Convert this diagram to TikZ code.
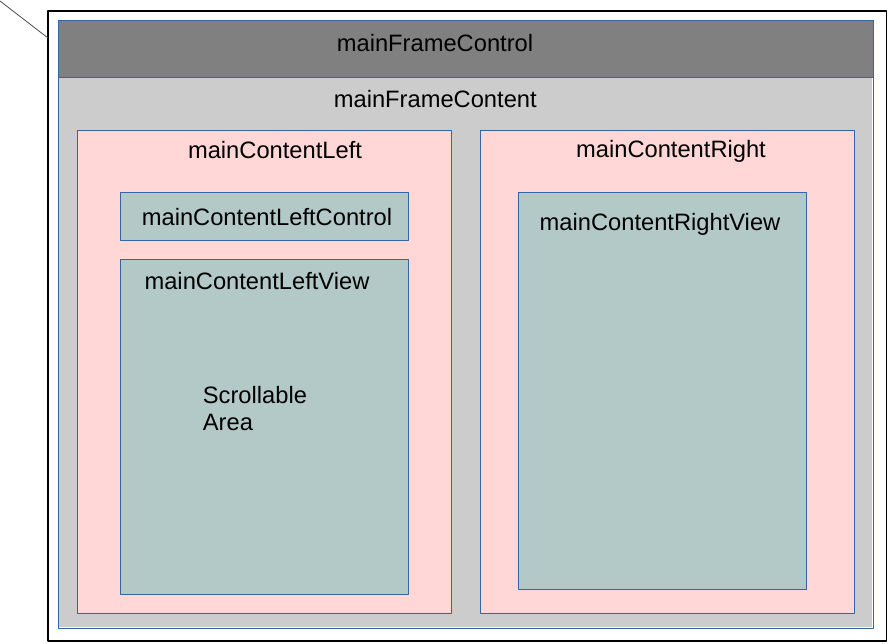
\documentclass[tikz,border=0pt]{standalone}
\usepackage{fontspec}
\setmainfont{Liberation Sans}
\definecolor{frameblue}{HTML}{3465A4}
\definecolor{viewteal}{HTML}{B3C9C7}
\definecolor{panelpink}{HTML}{FFD7D7}
\begin{document}
\begin{tikzpicture}[line join = round, line cap=round, x=1pt, y=-1pt,
	font=\fontsize{23.7}{27}\selectfont,
	box/.style={draw=frameblue, line width=1pt},
	lbl/.style={anchor=base, inner sep=0pt, text=black}]
		\useasboundingbox (0,0) rectangle (888,643);
		%		\draw (0,0) grid (888,643);
		\draw[line width=1.3pt] (48,11) rectangle (886.7,641);
		\draw[black!70, line width=0.8pt] (0,1)--(48,38);
		
		% main frame
		\fill[black!20] (58,77) rectangle (872,626.5);
		\draw[box] (58,20) rectangle (873,628);
		\draw[box, fill=gray] (58,20) rectangle (873,77);
		\draw 
		(435,51) node[lbl] (frameControl) {mainFrameControl}
		(435.3,107.7) node[lbl] (frameContent) {mainFrameContent}
		;
		
		% left column
		\draw[box, fill=panelpink] (77.3,130.7) rectangle (451.7,613);
		\draw[box, fill=viewteal] (120.3,192.3) rectangle (408.3,240);
		\draw[box, fill=viewteal] (120.3,259.3) rectangle (408.3,594);
		\draw 
		(275,158.3) node[lbl] (contentLeft) {mainContentLeft}
		(267,225) node[lbl] (leftControl) {mainContentLeftControl}
		(257,289.3) node[lbl] (leftView) {mainContentLeftView}
		(202.7,409) node[anchor=west, inner sep=0pt, align=left] (scrollArea) {Scrollable\\Area}
		;
		
		% right column
		\draw[box, fill=panelpink] (480.3,130.7) rectangle (854.3,613);
		\draw[box, fill=viewteal] (518.3,192.3) rectangle (806.7,589);
		\draw 
		(671,157.7) node[lbl] (contentRight) {mainContentRight}
		(660,230) node[lbl] (rightView) {mainContentRightView}
		;
	\end{tikzpicture}
\end{document}
